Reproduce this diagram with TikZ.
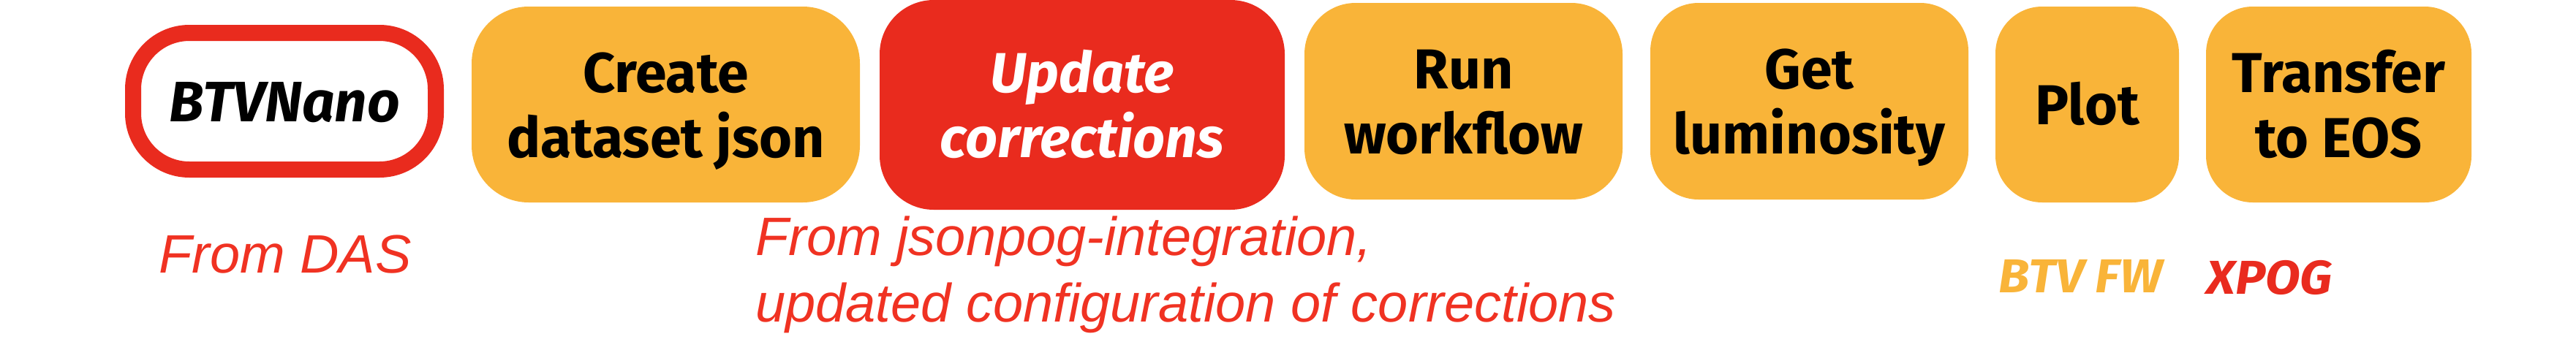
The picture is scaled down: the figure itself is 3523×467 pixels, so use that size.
\documentclass[tikz,border=0pt]{standalone}
\usepackage{fontspec}
\setmainfont{Liberation Sans}
\newfontfamily\boxfont{Fira Sans}[UprightFont=* Bold,ItalicFont=* Bold Italic]
\newfontfamily\legendfont{Fira Sans}[UprightFont=* Bold,ItalicFont=* Bold Italic,FakeStretch=1.07]
\definecolor{orng}{RGB}{249,180,57}
\definecolor{boxred}{RGB}{233,43,30}
\definecolor{lblred}{RGB}{240,50,34}
\newcommand\hs{\rule{0pt}{38pt}}
\newcommand\ds{\rule[-10.5pt]{0pt}{10.5pt}}
\tikzset{
  stepbox/.style={fill=orng, draw=none, inner sep=0pt, align=center,
    font=\boxfont\fontsize{38.5}{44.5}\selectfont, text=black},
  redbox/.style={fill=boxred, draw=none, inner sep=0pt, align=center,
    font=\boxfont\itshape\fontsize{38.5}{44.5}\selectfont, text=white},
  nanobox/.style={fill=white, draw=boxred, line width=11pt, inner sep=0pt,
    font=\boxfont\itshape\fontsize{39}{45}\selectfont, text=black},
  note/.style={inner sep=0pt, text=lblred, font=\itshape\fontsize{37}{45.5}\selectfont},
  legend/.style={inner sep=0pt, font=\legendfont\itshape\fontsize{32.5}{38}\selectfont},
}
\begin{document}
\begin{tikzpicture}[x=0.5pt,y=-0.5pt]
\useasboundingbox (0,0) rectangle (3523,467);
\node[nanobox, rounded corners=38.5pt, minimum width=207pt, minimum height=93.5pt] (nano) at (389,138.5) {\hs BTVNano\ds};
\node[stepbox, rounded corners=39pt, minimum width=265.5pt, minimum height=134pt] (create) at (910.5,143) {\hs Create\\dataset json\ds};
\node[redbox, rounded corners=37pt, minimum width=277pt, minimum height=143.5pt] (update) at (1480,143.5) {\hs Update\\corrections\ds};
\node[stepbox, rounded corners=35pt, minimum width=217.5pt, minimum height=134.5pt] (run) at (2001.5,138.5) {\hs Run\\workflow\ds};
\node[stepbox, rounded corners=33pt, minimum width=217.5pt, minimum height=134.5pt] (lumi) at (2474.5,138.5) {\hs Get\\luminosity\ds};
\node[stepbox, rounded corners=32pt, minimum width=125.5pt, minimum height=134pt] (plot) at (2854.5,143) {\hs Plot\ds};
\node[stepbox, rounded corners=32pt, minimum width=181.5pt, minimum height=134pt] (eos) at (3198.5,143) {\hs Transfer\\to EOS\ds};
\node[note, anchor=base west] (das) at (217,373) {From DAS};
\node[note, anchor=base west] (pog) at (1033,349) {\begin{tabular}[t]{@{}l@{}}From jsonpog-integration,\\updated configuration of corrections\end{tabular}};
\node[legend, text=orng, anchor=base west] (btvfw) at (2733,400) {BTV FW};
\node[legend, text=boxred, anchor=base west] (xpog) at (3017,402) {XPOG};
\end{tikzpicture}
\end{document}
